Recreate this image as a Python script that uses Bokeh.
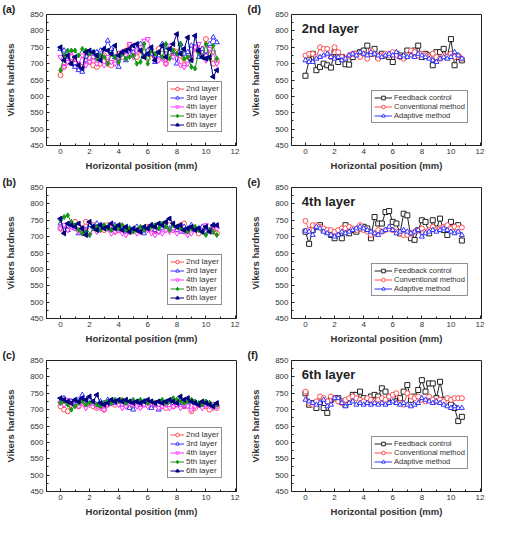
import math
from bokeh.plotting import figure
from bokeh.layouts import gridplot
from bokeh.models import Label, Legend, LegendItem, FixedTicker
from bokeh.embed import file_html
from bokeh.resources import INLINE

FONT = "Liberation Sans"

# horizontal positions (mm)
xpos = [0.0, 0.25, 0.5, 0.75, 1.0, 1.25, 1.5, 1.75, 2.0, 2.25, 2.5,
        2.75, 3.0, 3.25, 3.5, 3.75, 4.0, 4.25, 4.5, 4.75, 5.0, 5.25,
        5.5, 5.75, 6.0, 6.25, 6.5, 6.75, 7.0, 7.25, 7.5, 7.75, 8.0,
        8.25, 8.5, 8.75, 9.0, 9.25, 9.5, 9.75, 10.0, 10.25, 10.5, 10.75]

x_ticks = [0, 2, 4, 6, 8, 10, 12]
y_ticks = [450, 500, 550, 600, 650, 700, 750, 800, 850]

layer_names = ["2nd layer", "3rd layer", "4th layer", "5th layer", "6th layer"]
method_names = ["Feedback control", "Conventional method", "Adaptive method"]

# panel (a)
a2 = [665,690,710,720,700,685,690,720,705,695,690,
      700,725,700,695,705,730,720,740,755,730,720,
      740,735,715,730,720,745,730,700,720,740,735,
      725,695,730,715,745,740,735,775,725,700,710]
a3 = [745,740,720,700,690,680,675,710,730,720,735,
      740,745,770,745,720,690,735,710,740,735,745,
      760,720,740,730,705,725,760,740,750,735,700,
      760,730,735,755,750,720,745,725,760,780,765]
a4 = [720,690,705,735,715,700,725,695,705,720,700,
      715,695,720,705,700,720,735,725,760,720,740,
      750,770,775,740,725,710,715,700,755,720,730,
      695,690,700,720,750,760,725,710,745,735,700]
a5 = [680,725,740,740,740,725,745,740,730,735,715,
      725,720,700,730,720,705,730,715,720,725,700,
      705,760,700,740,730,735,720,760,715,740,730,
      760,715,720,690,685,735,720,760,715,755,715]
a6 = [750,710,725,700,720,695,685,735,740,735,725,
      710,745,740,730,755,725,735,740,745,755,760,
      740,720,730,750,710,735,755,720,745,760,790,
      730,745,780,710,785,740,720,715,720,660,680]

# panel (b)
b2 = [725,720,730,740,745,730,725,745,740,735,725,
      730,720,735,725,715,720,730,725,715,720,725,
      715,720,730,725,720,715,730,740,735,720,725,
      735,740,720,715,725,710,720,725,720,715,710]
b3 = [740,730,720,735,725,710,725,720,735,730,740,
      735,730,725,720,735,730,720,715,725,720,730,
      715,710,725,735,720,715,725,730,725,735,720,
      715,730,725,735,720,725,730,715,720,735,730]
b4 = [725,735,720,730,725,715,710,720,705,725,715,
      720,730,725,710,715,720,710,705,715,720,710,
      715,725,720,710,705,715,710,720,715,725,710,
      720,715,705,710,725,720,715,735,720,730,725]
b5 = [750,760,765,745,735,720,710,715,705,725,730,
      720,735,725,720,730,725,735,720,725,715,720,
      730,720,725,730,735,725,740,730,720,735,730,
      725,720,715,725,730,720,715,705,720,715,705]
b6 = [755,710,740,735,730,740,725,705,745,730,720,
      735,725,730,740,725,735,720,730,715,725,720,
      715,730,725,735,730,740,735,745,755,740,730,
      735,720,725,730,720,725,715,730,715,735,735]

# panel (c)
c2 = [710,700,695,715,720,710,725,715,720,710,705,
      715,700,715,720,715,720,725,715,710,715,720,
      710,720,715,710,720,715,710,705,715,710,720,
      715,710,715,695,705,715,720,710,700,715,705]
c3 = [725,735,720,725,715,730,745,725,730,720,715,
      725,720,730,725,720,725,715,720,705,700,715,
      720,725,715,705,715,700,715,720,725,720,715,
      720,710,715,725,720,715,710,715,720,710,715]
c4 = [720,715,730,720,715,710,720,705,715,720,710,
      705,700,715,720,725,715,705,710,720,715,710,
      705,715,710,720,715,705,710,715,705,710,715,
      705,715,710,700,710,715,705,715,710,705,710]
c5 = [720,725,715,700,710,720,725,715,720,725,715,
      710,720,725,720,730,725,730,720,725,730,725,
      730,725,720,725,720,725,730,720,725,735,730,
      725,720,725,730,725,720,715,725,720,710,715]
c6 = [735,730,725,720,730,725,735,730,740,725,745,
      720,715,720,730,725,730,725,730,725,720,725,
      720,725,730,725,720,725,720,725,730,725,720,
      740,730,735,725,720,715,725,720,715,710,720]

# panel (d) 2nd layer
d_fb = [663,710,730,680,690,700,695,688,735,705,720,
        698,697,720,730,735,740,755,730,745,720,730,
        725,720,705,730,725,720,740,730,740,755,720,
        730,725,695,735,735,745,720,775,695,720,710]
d_cv = [725,730,730,720,750,745,745,720,750,735,720,
        715,725,730,730,720,730,715,740,730,715,725,
        730,725,735,725,720,715,725,740,735,725,730,
        725,720,730,720,715,725,720,730,720,725,715]
d_ad = [710,705,705,715,720,725,730,720,715,720,710,
        715,725,730,725,735,730,725,735,730,725,720,
        725,730,725,735,720,725,720,725,720,730,725,
        720,715,710,705,715,720,715,720,735,725,715]

# panel (e) 4th layer
e_fb = [715,678,720,730,735,720,715,705,695,710,695,
        735,710,720,715,725,730,725,695,760,740,740,
        775,778,745,740,710,770,765,695,690,720,750,
        745,710,750,725,755,720,705,745,730,735,688]
e_cv = [748,720,735,735,730,725,720,720,715,720,725,
        725,730,725,720,735,720,715,705,710,720,715,
        720,725,720,715,710,705,705,710,715,720,725,
        715,720,730,720,725,730,735,725,730,725,728]
e_ad = [718,715,705,730,725,715,710,705,700,705,715,
        710,715,720,725,730,725,720,715,710,705,715,
        720,730,720,710,715,720,715,710,715,720,700,
        710,715,720,715,720,725,720,715,710,715,705]

# panel (f) 6th layer
f_fb = [750,715,720,705,725,705,690,730,735,735,725,
        715,730,745,745,755,735,730,740,745,740,765,
        755,735,735,725,735,755,775,730,740,760,790,
        755,780,780,735,785,730,720,715,705,665,678]
f_cv = [755,720,715,725,740,735,725,740,735,725,720,
        730,735,740,735,730,725,735,730,725,730,735,
        730,740,745,750,720,715,750,740,735,740,730,
        725,740,730,725,730,725,735,730,735,735,735]
f_ad = [730,725,720,715,720,730,710,715,735,735,720,
        710,720,725,715,720,715,720,715,720,715,720,
        715,720,725,720,715,720,715,710,715,720,735,
        730,725,720,725,720,715,710,705,710,705,705]

LAYER_STYLE = [
    ("#ff4d4d", "circle", 0, "white"),
    ("#3333ff", "triangle", 0, "white"),
    ("#ff33ff", "inverted_triangle", 0, "white"),
    ("#119911", "diamond", 0, "#119911"),
    ("#000080", "triangle", math.pi / 2, "#000080"),
]
METHOD_STYLE = [
    ("#222222", "square", 0, "white"),
    ("#ff4d4d", "circle", 0, "white"),
    ("#3333ff", "triangle", 0, "white"),
]


def panel(tag, series, names, styles, layer_title=None, legend_xy=(0, 0),
          glyph_w=14, leg_font="8px"):
    p = figure(width=245, height=173, x_range=(-0.96, 12.1), y_range=(450, 850),
               output_backend="svg", toolbar_location=None,
               min_border_left=46, min_border_right=9,
               min_border_top=6, min_border_bottom=27)
    p.title.text = tag
    p.title.align = "left"
    p.title.offset = -44
    p.title.standoff = 0
    p.title.text_font = FONT
    p.title.text_font_style = "bold"
    p.title.text_font_size = "10.5px"
    p.title.text_color = "#222222"
    p.background_fill_color = "white"
    p.border_fill_color = "white"
    p.outline_line_color = "#222222"
    p.outline_line_width = 1
    p.xgrid.visible = False
    p.ygrid.visible = False
    p.xaxis.ticker = FixedTicker(ticks=x_ticks, minor_ticks=[1, 3, 5, 7, 9, 11])
    p.yaxis.ticker = FixedTicker(ticks=y_ticks,
                                 minor_ticks=[475, 525, 575, 625, 675, 725, 775, 825])
    for ax in (p.xaxis[0], p.yaxis[0]):
        ax.major_tick_in = 3
        ax.major_tick_out = 0
        ax.minor_tick_in = 2
        ax.minor_tick_out = 0
        ax.axis_line_color = "#222222"
        ax.major_tick_line_color = "#222222"
        ax.minor_tick_line_color = "#222222"
        ax.major_label_text_font = FONT
        ax.major_label_text_font_size = "8px"
        ax.major_label_text_color = "#333333"
        ax.axis_label_text_font = FONT
        ax.axis_label_text_font_style = "bold"
        ax.axis_label_text_font_size = "9.5px"
        ax.axis_label_text_color = "#333333"
    p.xaxis.axis_label = "Horizontal position (mm)"
    p.yaxis.axis_label = "Vikers hardness"
    p.xaxis.axis_label_standoff = 3
    p.yaxis.axis_label_standoff = 11
    p.xaxis.major_label_standoff = 3
    p.yaxis.major_label_standoff = 3

    items = []
    for vals, name, (col, mk, ang, fill) in zip(series, names, styles):
        r1 = p.line(xpos, vals, line_color=col, line_width=1)
        r2 = p.scatter(xpos, vals, marker=mk, angle=ang, size=5,
                       line_color=col, fill_color=fill, line_width=1)
        items.append(LegendItem(label=name, renderers=[r1, r2]))
    leg = Legend(items=items, location=legend_xy)
    leg.label_text_font = FONT
    leg.label_text_font_size = leg_font
    leg.label_text_color = "#333333"
    leg.label_height = 9
    leg.glyph_height = 9
    leg.glyph_width = glyph_w
    leg.spacing = 0
    leg.padding = 2
    leg.margin = 0
    leg.label_standoff = 2
    leg.border_line_color = "#222222"
    leg.border_line_width = 1
    leg.background_fill_alpha = 1
    p.add_layout(leg)

    if layer_title:
        p.add_layout(Label(x=-0.25, y=806, text=layer_title, text_font=FONT,
                           text_font_style="bold", text_font_size="13px",
                           text_color="#222222", text_baseline="middle"))
    return p


pa = panel("(a)", [a2, a3, a4, a5, a6], layer_names, LAYER_STYLE, legend_xy=(121, 13))
pb = panel("(b)", [b2, b3, b4, b5, b6], layer_names, LAYER_STYLE, legend_xy=(121, 13))
pc = panel("(c)", [c2, c3, c4, c5, c6], layer_names, LAYER_STYLE, legend_xy=(121, 13))
pd = panel("(d)", [d_fb, d_cv, d_ad], method_names, METHOD_STYLE, "2nd layer", (80, 22), 18, "7.5px")
pe = panel("(e)", [e_fb, e_cv, e_ad], method_names, METHOD_STYLE, "4th layer", (80, 22), 18, "7.5px")
pf = panel("(f)", [f_fb, f_cv, f_ad], method_names, METHOD_STYLE, "6th layer", (80, 22), 18, "7.5px")

grid = gridplot([[pa, pd], [pb, pe], [pc, pf]], toolbar_location=None)

open("out.html", "w").write(file_html(grid, INLINE))
